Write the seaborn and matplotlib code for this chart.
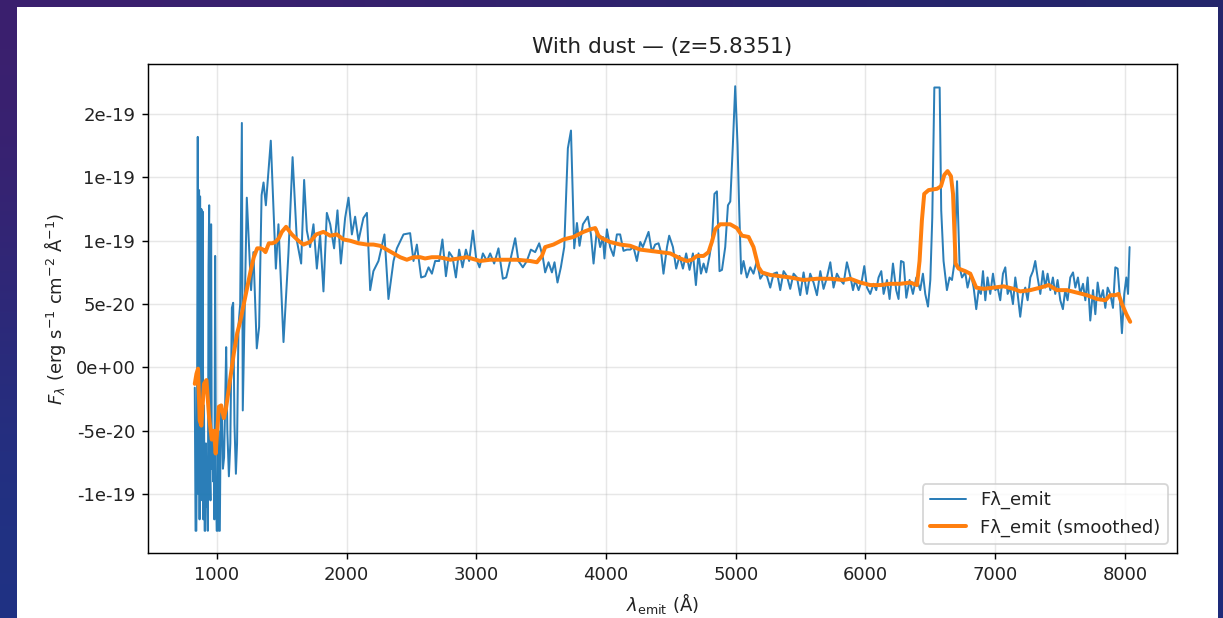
import numpy as np
import matplotlib
matplotlib.use("Agg")
import matplotlib.pyplot as plt
from matplotlib.patches import Rectangle
from matplotlib.ticker import FixedLocator, FixedFormatter
import seaborn as sns

# ---------------- data (flux in units of 1e-20 erg/s/cm2/A) ----------------
wave_raw = [
    830, 836, 842, 848, 853, 858, 863, 867, 871, 876, 881, 886, 891, 896, 901, 906, 911, 916, 921, 926,
    931, 936, 941, 946, 951, 956, 961, 966, 971, 976, 981, 987, 993, 999, 1005, 1011, 1017, 1023, 1030, 1038,
    1047, 1056, 1064, 1072, 1081, 1093, 1104, 1116, 1126, 1136, 1147, 1156, 1167, 1180, 1193, 1200, 1231, 1264, 1282, 1308,
    1326, 1345, 1360, 1378, 1416, 1455, 1475, 1514, 1552, 1584, 1617, 1650, 1673, 1694, 1719, 1745, 1771, 1796, 1822, 1848,
    1874, 1904, 1930, 1956, 1989, 2015, 2041, 2066, 2092, 2130, 2157, 2182, 2207, 2246, 2292, 2323, 2362, 2388, 2439, 2490,
    2516, 2542, 2575, 2606, 2632, 2658, 2683, 2714, 2739, 2766, 2791, 2817, 2843, 2868, 2894, 2920, 2945, 2974, 2999, 3025,
    3051, 3082, 3107, 3138, 3171, 3205, 3231, 3261, 3300, 3325, 3359, 3390, 3421, 3454, 3485, 3513, 3531, 3557, 3583, 3603,
    3626, 3652, 3678, 3706, 3730, 3755, 3776, 3796, 3822, 3860, 3884, 3904, 3930, 3955, 3976, 3988, 4007, 4032, 4058, 4084,
    4109, 4135, 4161, 4187, 4212, 4238, 4264, 4284, 4302, 4328, 4354, 4379, 4405, 4426, 4443, 4470, 4487, 4516, 4541, 4567,
    4593, 4618, 4644, 4670, 4693, 4713, 4732, 4752, 4773, 4798, 4816, 4836, 4855, 4875, 4894, 4919, 4940, 4958, 4978, 4996,
    5014, 5027, 5042, 5060, 5086, 5112, 5137, 5163, 5189, 5214, 5241, 5266, 5292, 5318, 5343, 5369, 5395, 5420, 5446, 5472,
    5497, 5523, 5549, 5574, 5600, 5626, 5652, 5677, 5703, 5729, 5754, 5780, 5806, 5831, 5857, 5883, 5904, 5921, 5947, 5973,
    5991, 6012, 6037, 6062, 6083, 6101, 6122, 6140, 6166, 6186, 6212, 6237, 6255, 6274, 6294, 6315, 6340, 6366, 6392, 6422,
    6443, 6461, 6482, 6500, 6515, 6531, 6572, 6584, 6602, 6628, 6648, 6667, 6685, 6706, 6726, 6744, 6769, 6787, 6813, 6834,
    6854, 6872, 6890, 6906, 6924, 6941, 6962, 6983, 7001, 7019, 7039, 7060, 7078, 7096, 7116, 7137, 7155, 7173, 7193, 7214,
    7232, 7250, 7271, 7291, 7309, 7327, 7348, 7368, 7386, 7404, 7425, 7445, 7463, 7481, 7502, 7522, 7540, 7558, 7579, 7600,
    7618, 7638, 7656, 7677, 7695, 7713, 7733, 7754, 7772, 7790, 7810, 7831, 7849, 7867, 7887, 7908, 7926, 7944, 7959, 7977,
    7995, 8011, 8024, 8036,
]
flux_raw = [
    -1.6, -12.9, -12.9, -2.0, 18.2, -10.0, 14.0, -12.0, 13.5, -10.5, 12.5, -9.0, 12.3, -12.0, -3.0, -12.9, -12.9, -6.0, -11.0, -8.0,
    -12.9, 8.0, 12.8, -8.1, -10.5, 11.3, -8.0, -5.0, -9.0, -7.1, -12.0, 8.8, -9.0, -12.9, -12.9, -5.0, -12.9, -12.9, -4.0, -3.1,
    -8.0, -7.1, -3.0, 1.6, -5.0, -8.6, -6.0, 4.7, 5.1, -4.5, -8.4, -6.0, 3.3, 5.0, 19.3, -3.4, 13.4, 6.1, 9.1, 1.5,
    3.2, 13.6, 14.6, 12.8, 17.9, 7.8, 11.3, 2.0, 9.0, 16.6, 10.0, 8.2, 14.8, 10.8, 9.5, 11.3, 7.8, 10.5, 6.0, 12.2,
    11.3, 9.4, 12.4, 8.2, 11.8, 13.4, 10.5, 11.9, 10.0, 11.8, 12.2, 6.1, 7.6, 8.4, 10.5, 5.4, 8.4, 9.4, 10.5, 10.6,
    8.4, 9.7, 7.1, 7.2, 7.9, 7.4, 8.4, 8.4, 10.1, 7.2, 9.1, 8.7, 7.1, 9.3, 7.9, 9.3, 8.4, 10.8, 8.6, 7.9,
    9.0, 8.4, 9.0, 8.2, 9.4, 7.0, 7.1, 8.4, 10.2, 8.4, 7.9, 8.4, 9.3, 9.1, 9.8, 8.7, 7.5, 8.3, 7.5, 8.3,
    6.7, 7.9, 9.5, 17.3, 18.7, 9.4, 11.4, 9.6, 11.3, 11.9, 10.5, 8.2, 10.9, 9.5, 10.3, 8.6, 10.9, 9.5, 8.8, 10.5,
    10.5, 9.2, 9.3, 9.3, 9.5, 8.4, 9.9, 9.5, 10.0, 10.7, 9.1, 9.7, 9.8, 9.0, 7.4, 9.5, 10.4, 9.5, 7.8, 8.8,
    7.8, 9.0, 7.7, 9.0, 6.5, 9.0, 7.4, 8.2, 7.5, 8.8, 10.0, 13.7, 13.9, 7.6, 7.7, 9.5, 12.8, 13.1, 17.6, 22.2,
    17.6, 12.4, 7.4, 8.4, 7.1, 7.9, 7.4, 8.4, 7.0, 7.4, 7.2, 6.3, 7.4, 7.5, 6.1, 7.6, 7.2, 6.2, 7.4, 7.1,
    5.7, 7.5, 5.8, 7.4, 6.7, 5.7, 7.6, 6.2, 7.1, 8.3, 6.3, 7.4, 6.9, 6.6, 8.3, 7.2, 6.1, 6.9, 6.1, 6.9,
    8.0, 6.3, 5.8, 6.6, 6.1, 7.1, 7.6, 5.8, 6.9, 5.4, 8.2, 6.1, 5.4, 8.4, 8.3, 5.5, 6.9, 5.8, 7.1, 6.1,
    7.4, 5.8, 4.8, 6.9, 11.8, 22.1, 22.1, 12.4, 8.4, 6.1, 7.1, 6.9, 8.2, 14.7, 7.9, 7.1, 7.5, 6.3, 7.4, 6.3,
    4.6, 6.1, 5.8, 7.6, 5.3, 7.1, 5.8, 7.4, 6.1, 6.3, 5.3, 7.4, 7.9, 5.8, 6.3, 5.0, 7.1, 5.8, 4.0, 5.8,
    6.3, 5.3, 7.1, 7.6, 8.4, 7.1, 5.8, 7.6, 6.3, 7.4, 6.1, 7.1, 5.8, 6.9, 5.3, 4.6, 6.1, 5.3, 7.1, 7.5,
    6.3, 7.1, 5.8, 6.6, 5.3, 7.1, 3.7, 6.1, 4.2, 6.7, 5.3, 6.1, 4.7, 6.3, 5.8, 4.7, 7.9, 7.8, 5.8, 2.7,
    5.8, 7.1, 5.8, 9.5,
]

wave_smooth = [
    830, 843, 855, 868, 881, 901, 920, 940, 961, 978, 991, 1016, 1034, 1054, 1070, 1088, 1105, 1131, 1157, 1182,
    1208, 1234, 1260, 1285, 1311, 1336, 1357, 1375, 1401, 1427, 1452, 1478, 1501, 1534, 1578, 1629, 1668, 1719, 1766, 1822,
    1874, 1925, 1976, 2028, 2092, 2157, 2207, 2259, 2311, 2362, 2413, 2465, 2516, 2568, 2605, 2657, 2708, 2760, 2799, 2928,
    3030, 3107, 3210, 3313, 3416, 3467, 3506, 3531, 3595, 3672, 3749, 3826, 3878, 3917, 3942, 3968, 4032, 4109, 4187, 4264,
    4341, 4418, 4495, 4572, 4624, 4662, 4701, 4752, 4790, 4816, 4842, 4880, 4957, 5009, 5048, 5099, 5137, 5176, 5202, 5266,
    5343, 5420, 5523, 5626, 5729, 5831, 5883, 5960, 6037, 6114, 6191, 6268, 6345, 6397, 6417, 6435, 6453, 6487, 6551, 6582,
    6608, 6633, 6659, 6675, 6685, 6695, 6718, 6769, 6808, 6829, 6854, 6911, 6988, 7065, 7142, 7193, 7271, 7348, 7412, 7476,
    7554, 7631, 7708, 7785, 7849, 7887, 7926, 7951, 7977, 8011, 8041,
]
flux_smooth = [
    -1.3, -0.5, -0.1, -4.2, -4.6, -1.3, -1.0, -3.9, -5.7, -5.0, -6.8, -3.1, -3.0, -4.0, -3.3, -2.0, -0.8, 1.1, 2.7, 3.7,
    5.0, 6.3, 7.6, 8.7, 9.4, 9.4, 9.3, 9.1, 9.8, 9.8, 9.9, 10.2, 10.7, 11.1, 10.5, 10.0, 9.7, 9.9, 10.5, 10.7,
    10.4, 10.5, 10.1, 10.0, 9.8, 9.7, 9.7, 9.6, 9.3, 9.0, 8.7, 8.5, 8.7, 8.7, 8.6, 8.7, 8.7, 8.6, 8.5, 8.7,
    8.4, 8.5, 8.5, 8.5, 8.4, 8.3, 8.8, 9.5, 9.7, 10.1, 10.3, 10.7, 10.9, 11.0, 10.4, 10.2, 9.9, 9.7, 9.6, 9.3,
    9.2, 9.1, 9.0, 8.6, 8.4, 8.5, 8.8, 8.8, 9.1, 9.9, 10.9, 11.3, 11.3, 11.0, 10.4, 10.3, 9.5, 7.9, 7.5, 7.3,
    7.2, 7.1, 6.9, 7.0, 7.0, 6.9, 7.0, 6.7, 6.5, 6.5, 6.6, 6.6, 6.7, 6.5, 8.4, 11.6, 13.7, 14.0, 14.1, 14.3,
    15.2, 15.5, 15.1, 13.7, 11.0, 8.2, 7.8, 7.6, 7.4, 6.9, 6.3, 6.2, 6.3, 6.4, 6.2, 6.0, 6.1, 6.3, 6.5, 6.1,
    6.1, 5.9, 5.7, 5.4, 5.3, 5.7, 5.7, 5.8, 5.0, 4.2, 3.6,
]
flux_unit = 1e-20

x_ticks = [1000, 2000, 3000, 4000, 5000, 6000, 7000, 8000]
y_ticks = [-1e-19, -5e-20, 0.0, 5e-20, 1e-19, 1.5e-19, 2e-19]
y_tick_labels = ["-1e-19", "-5e-20", "0e+00", "5e-20", "1e-19", "1e-19", "2e-19"]

assert len(wave_raw) == len(flux_raw), (len(wave_raw), len(flux_raw))
assert len(wave_smooth) == len(flux_smooth), (len(wave_smooth), len(flux_smooth))

# ---------------- style ----------------
sns.set_style("ticks")
plt.rcParams.update({
    "axes.edgecolor": "black",
    "axes.linewidth": 0.8,
    "text.color": "#222222",
    "axes.labelcolor": "#222222",
    "xtick.color": "black",
    "ytick.color": "black",
    "xtick.labelcolor": "#222222",
    "ytick.labelcolor": "#222222",
    "xtick.major.size": 3.5,
    "ytick.major.size": 3.5,
    "font.size": 10,
})
plt.rcParams["font.family"] = ["DejaVu Sans"]

DPI = 130
fig = plt.figure(figsize=(1223 / DPI, 618 / DPI), dpi=DPI)

# slide-like dark background with white panel
bg = fig.add_axes([0, 0, 1, 1], zorder=-10)
grad = np.array([
    [[0.24, 0.12, 0.43], [0.14, 0.15, 0.42]],
    [[0.12, 0.20, 0.52], [0.12, 0.17, 0.48]],
])
bg.imshow(grad, aspect="auto", extent=[0, 1, 0, 1], interpolation="bicubic")
bg.add_patch(Rectangle((17 / 1223, 0), (1218 - 17) / 1223, 1 - 7 / 618,
                       transform=bg.transAxes, facecolor="white", edgecolor="none"))
bg.set_xlim(0, 1)
bg.set_ylim(0, 1)
bg.axis("off")

ax = fig.add_axes([148 / 1223, 1 - 553 / 618, (1177 - 148) / 1223, (553 - 64) / 618])
ax.set_facecolor("white")

sns.lineplot(x=wave_raw, y=np.array(flux_raw) * flux_unit, ax=ax, color="#1f77b4",
             linewidth=1.1, label="Fλ_emit", estimator=None, sort=False, alpha=0.95)
sns.lineplot(x=wave_smooth, y=np.array(flux_smooth) * flux_unit, ax=ax, color="#ff7f0e",
             linewidth=2.2, label="Fλ_emit (smoothed)", estimator=None, sort=False)

ax.xaxis.set_major_locator(FixedLocator(x_ticks))
ax.yaxis.set_major_locator(FixedLocator(y_ticks))
ax.yaxis.set_major_formatter(FixedFormatter(y_tick_labels))
ax.grid(True, color="#b0b0b0", alpha=0.3, linewidth=0.8)
for s in ax.spines.values():
    s.set_visible(True)
    s.set_color("black")

ax.set_title("With dust — (z=5.8351)", fontsize=12)
ax.set_xlabel(r"$\lambda_{\rm emit}$ (Å)")
ax.set_ylabel(r"$F_\lambda$ (erg s$^{-1}$ cm$^{-2}$ Å$^{-1}$)")
ax.legend(loc="lower right", frameon=True, fancybox=True, framealpha=0.8, edgecolor="#cccccc")

fig.savefig("out.png", dpi=DPI)
